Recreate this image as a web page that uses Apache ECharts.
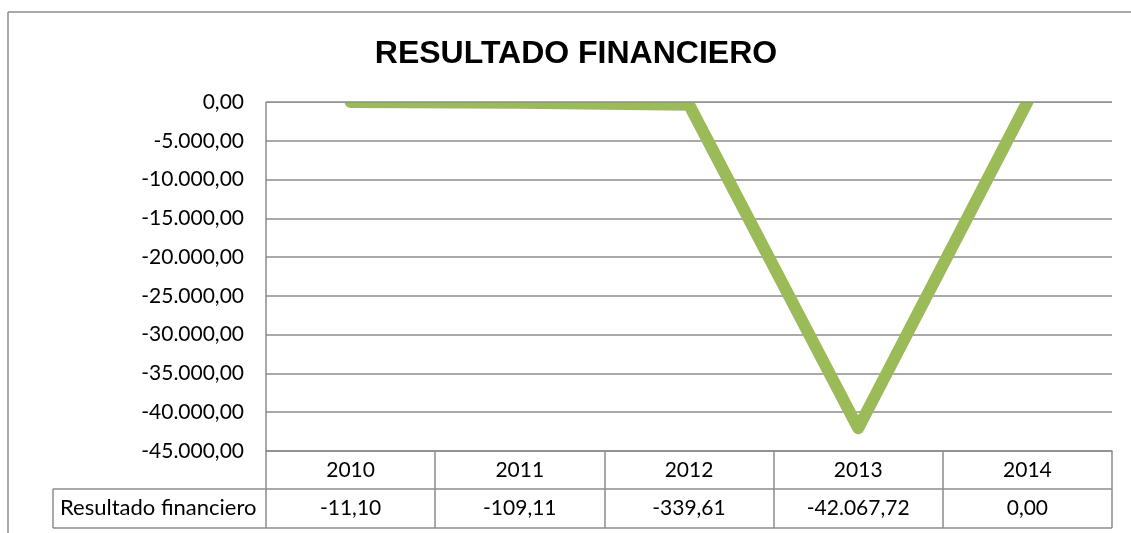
<!DOCTYPE html>
<html>
<head>
<meta charset="utf-8">
<script src="https://cdn.jsdelivr.net/npm/echarts@6/dist/echarts.min.js"></script>
<style>
  html, body { margin: 0; padding: 0; background: #fff; }
  #chart { width: 1131px; height: 533px; }
</style>
</head>
<body>
<div id="chart"></div>
<script>
const years = ['2010', '2011', '2012', '2013', '2014']
const resultado = [-11.10, -109.11, -339.61, -42067.72, 0.00]
const rowLabel = 'Resultado financiero'
const titleText = 'RESULTADO FINANCIERO'

// formato español: -42.067,72
function fmt(v) {
  const neg = v < 0
  const parts = Math.abs(v).toFixed(2).split('.')
  const ent = parts[0].replace(/\B(?=(\d{3})+(?!\d))/g, '.')
  return (neg ? '-' : '') + ent + ',' + parts[1]
}

const gridColor = '#8c8c8c'
const font = 'Lato'
const gLeft = 266, gRight = 1112, gTop = 102, gBottom = 451
const rowTop = 489, rowBottom = 528

const chart = echarts.init(document.getElementById('chart'))
chart.setOption({
  animation: false,
  title: {
    text: titleText,
    left: 571,
    top: 33,
    textAlign: 'center',
    z: 200,
    textStyle: {
      fontFamily: 'Liberation Sans',
      fontSize: 32,
      fontWeight: 'bold',
      color: '#000',
    },
  },
  grid: {
    left: gLeft,
    right: 1131 - gRight,
    top: gTop,
    bottom: 533 - gBottom,
  },
  xAxis: [
    {
      type: 'category',
      data: years,
      boundaryGap: true,
      axisLine: { show: true, onZero: false, lineStyle: { color: gridColor, width: 1.5 } },
      axisTick: {
        show: true,
        interval: 0,
        length: rowBottom - gBottom,
        lineStyle: { color: gridColor, width: 1.5 },
      },
      axisLabel: {
        interval: 0,
        margin: 9,
        fontFamily: font,
        fontSize: 21,
        color: '#000',
      },
      splitLine: { show: false },
    },
    {
      type: 'category',
      position: 'bottom',
      offset: rowTop - gBottom,
      data: resultado.map(fmt),
      boundaryGap: true,
      axisLine: { show: false, onZero: false },
      axisTick: { show: false },
      axisLabel: {
        interval: 0,
        margin: 9,
        fontFamily: font,
        fontSize: 21,
        color: '#000',
      },
    },
  ],
  yAxis: {
    type: 'value',
    min: -45000,
    max: 0,
    interval: 5000,
    axisLine: { show: true, lineStyle: { color: gridColor, width: 1.5 } },
    axisTick: { show: false },
    axisLabel: {
      margin: 22,
      fontFamily: font,
      fontSize: 21,
      color: '#000',
      formatter: v => fmt(v),
    },
    splitLine: { show: true, lineStyle: { color: gridColor, width: 1.5 } },
  },
  series: [
    {
      name: rowLabel,
      type: 'line',
      xAxisIndex: 0,
      data: resultado,
      symbol: 'none',
      clip: true,
      lineStyle: { color: '#9BBB59', width: 12, cap: 'round', join: 'round' },
    },
  ],
  graphic: [
    // la línea queda recortada en el borde superior del área de trazado
    { type: 'rect', z: 100, shape: { x: gLeft - 10, y: gTop - 14, width: gRight - gLeft + 20, height: 14 }, style: { fill: '#fff' } },
    { type: 'line', z: 101, shape: { x1: gLeft, y1: gTop, x2: gRight, y2: gTop }, style: { stroke: gridColor, lineWidth: 1.5 } },
    // marco del gráfico
    { type: 'line', shape: { x1: 8, y1: 12, x2: 1131, y2: 12 }, style: { stroke: '#8c8c8c', lineWidth: 1.5 } },
    { type: 'line', shape: { x1: 8, y1: 12, x2: 8, y2: 533 }, style: { stroke: '#8c8c8c', lineWidth: 1.5 } },
    // tabla de datos
    { type: 'line', shape: { x1: 53, y1: rowTop, x2: gRight, y2: rowTop }, style: { stroke: gridColor, lineWidth: 1.5 } },
    { type: 'line', shape: { x1: 53, y1: rowBottom, x2: gRight, y2: rowBottom }, style: { stroke: gridColor, lineWidth: 1.5 } },
    { type: 'line', shape: { x1: 53, y1: rowTop, x2: 53, y2: rowBottom }, style: { stroke: gridColor, lineWidth: 1.5 } },
    {
      type: 'text',
      left: 60,
      top: (rowTop + rowBottom) / 2 - 12,
      style: { text: rowLabel, fontFamily: font, fontSize: 22, fill: '#000' },
    },
  ],
})
</script>
</body>
</html>
